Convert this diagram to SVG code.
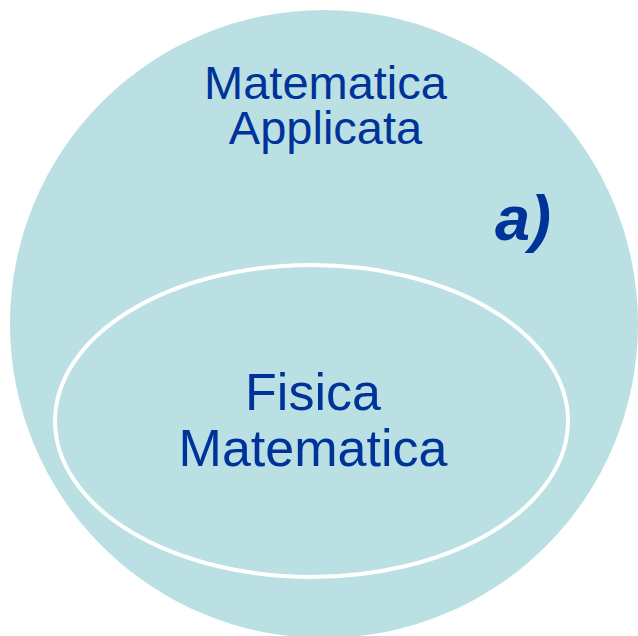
<svg xmlns="http://www.w3.org/2000/svg" width="638" height="636" viewBox="0 0 638 636">
<style>
.lbl{font-family:"Liberation Sans",Arial,sans-serif;fill:#00339A;text-anchor:middle}
</style>
<rect width="638" height="636" fill="#ffffff"/>
<g id="applicata">
<circle cx="324" cy="324" r="314" fill="#BAE0E3"/>
<text class="lbl" x="325.5" y="99" font-size="47">Matematica</text>
<text class="lbl" x="325.5" y="144" font-size="47">Applicata</text>
<text x="495" y="240" font-family="'Liberation Sans',Arial,sans-serif" font-size="63" font-weight="bold" font-style="italic" fill="#00339A">a)</text>
</g>
<g id="fisica">
<ellipse cx="311.5" cy="421" rx="256.5" ry="156" fill="none" stroke="#ffffff" stroke-width="4"/>
<text class="lbl" x="313" y="410" font-size="52">Fisica</text>
<text class="lbl" x="313" y="466" font-size="52">Matematica</text>
</g>
<g id="connectors"/>
</svg>
